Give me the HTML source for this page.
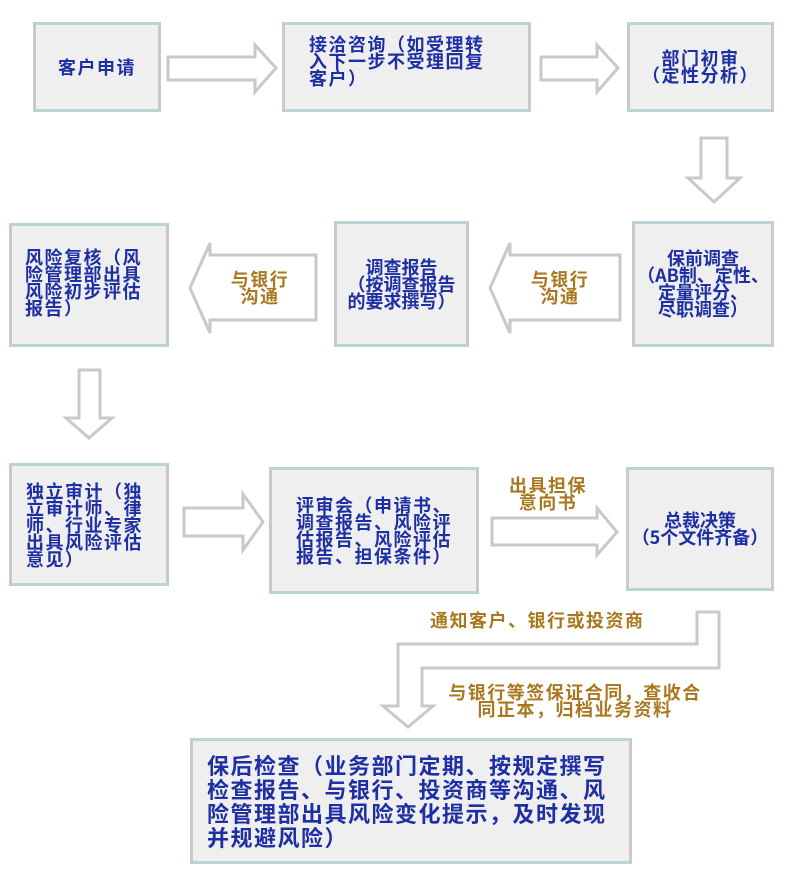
<!DOCTYPE html>
<html><head><meta charset="utf-8"><style>
body{margin:0;width:800px;height:879px;background:#fff;position:relative;overflow:hidden;font-family:"Noto Sans CJK SC","Liberation Sans",sans-serif;}
.b{position:absolute;background:#efefef;border:3px solid #c9c9c9;border-top-color:#b7d6d8;border-bottom-color:#b7d6d8;box-sizing:border-box;color:#1d2fa3;font-size:18px;letter-spacing:1.5px;line-height:17px;display:flex;align-items:center;white-space:nowrap;font-weight:bold;}
.c{justify-content:center;text-align:center;}
.t{position:absolute;color:#a8781f;font-size:18px;letter-spacing:1.5px;line-height:17px;text-align:center;white-space:nowrap;font-weight:bold;}
svg{position:absolute;left:0;top:0;}
</style></head><body>
<svg width="800" height="879">
<g fill="#fff" stroke="#c9c9c9" stroke-width="3">
<polygon points="168,57 255,57 255,45 276,68 255,92 255,80 168,80"/>
<polygon points="541,57 597,57 597,45 618,68 597,92 597,80 541,80"/>
<polygon points="701,138 727,138 727,178 740,178 714,202 688,178 701,178"/>
<polygon points="316,255 210,255 210,243 190,288 210,333 210,320 316,320"/>
<polygon points="620,255 510,255 510,243 490,288 510,333 510,320 620,320"/>
<polygon points="79,370 100,370 100,418 112,418 89,438 66,418 79,418"/>
<polygon points="184,508 243,508 243,494 263,522 243,550 243,536 184,536"/>
<polygon points="492,518 597,518 597,508 617,532 597,555 597,545 492,545"/>
<polygon points="697,612 719,612 719,668 422,668 422,706 433,706 408,727 383,706 398,706 398,644 697,644"/>
</g>
</svg>
<div class="b c" style="left:33px;top:22px;width:128px;height:90px">客户申请</div>
<div class="b" style="left:282px;top:22px;width:249px;height:90px;align-items:flex-start;padding:11px 0 0 24px">接洽咨询（如受理转<br>入下一步不受理回复<br>客户）</div>
<div class="b c" style="left:627px;top:22px;width:147px;height:90px">部门初审<br>（定性分析）</div>
<div class="b" style="left:9px;top:223px;width:160px;height:124px;align-items:flex-start;padding:23px 0 0 13px">风险复核（风<br>险管理部出具<br>风险初步评估<br>报告）</div>
<div class="b c" style="left:334px;top:221px;width:135px;height:126px;letter-spacing:0px">调查报告<br>（按调查报告<br>的要求撰写）</div>
<div class="b c" style="left:632px;top:221px;width:142px;height:126px;letter-spacing:0px">保前调查<br>（AB制、定性、<br>定量评分、<br>尽职调查）</div>
<div class="b" style="left:9px;top:463px;width:160px;height:123px;align-items:flex-start;padding:17px 0 0 14px">独立审计（独<br>立审计师、律<br>师、行业专家<br>出具风险评估<br>意见）</div>
<div class="b c" style="left:269px;top:467px;width:210px;height:127px">评审会（申请书、<br>调查报告、风险评<br>估报告、风险评估<br>报告、担保条件）</div>
<div class="b c" style="left:626px;top:467px;width:148px;height:124px;letter-spacing:0px">总裁决策<br>（5个文件齐备）</div>
<div class="b" style="left:190px;top:738px;width:442px;height:126px;font-size:22px;letter-spacing:1.5px;line-height:24px;align-items:flex-start;padding:12px 0 0 14px">保后检查（业务部门定期、按规定撰写<br>检查报告、与银行、投资商等沟通、风<br>险管理部出具风险变化提示，及时发现<br>并规避风险）</div>
<div class="t" style="left:205px;top:271px;width:110px">与银行<br>沟通</div>
<div class="t" style="left:505px;top:271px;width:110px">与银行<br>沟通</div>
<div class="t" style="left:488px;top:477px;width:120px">出具担保<br>意向书</div>
<div class="t" style="left:430px;top:612px;width:270px;text-align:left">通知客户、银行或投资商</div>
<div class="t" style="left:415px;top:684px;width:320px">与银行等签保证合同，查收合<br>同正本，归档业务资料</div>
</body></html>
